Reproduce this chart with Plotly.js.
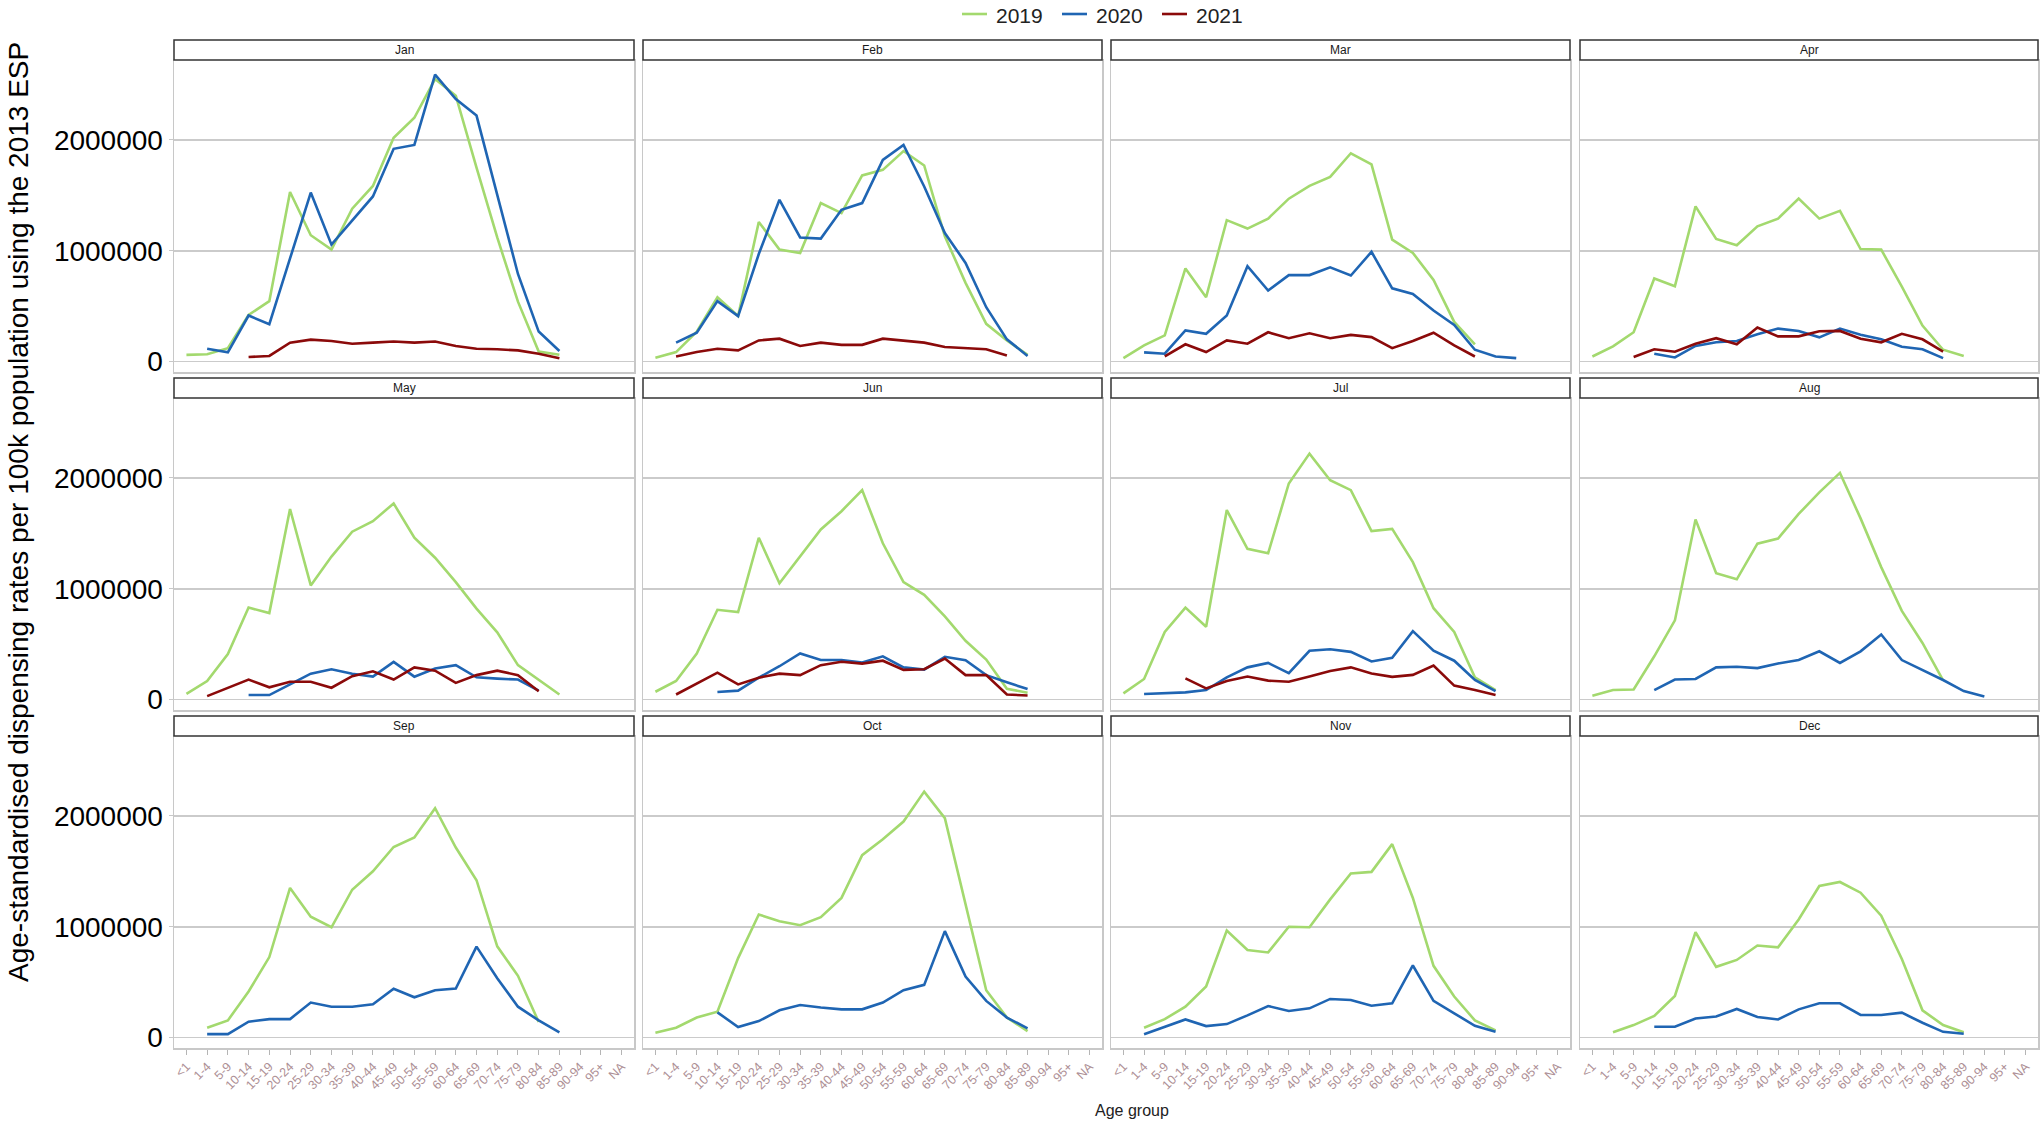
<!DOCTYPE html>
<html>
<head>
<meta charset="utf-8">
<script src="https://cdn.plot.ly/plotly-3.0.1.min.js"></script>
<style>
  html, body { margin: 0; padding: 0; background: #fff; }
  #chart { width: 2040px; height: 1122px; }
</style>
</head>
<body>
<div id="chart"></div>
<script>
// Age groups on the x axis
const ageGroups = ['<1', '1-4', '5-9', '10-14', '15-19', '20-24', '25-29', '30-34', '35-39', '40-44',
  '45-49', '50-54', '55-59', '60-64', '65-69', '70-74', '75-79', '80-84', '85-89', '90-94', '95+', 'NA'];

const months = ['Jan', 'Feb', 'Mar', 'Apr', 'May', 'Jun', 'Jul', 'Aug', 'Sep', 'Oct', 'Nov', 'Dec'];

const years = ['2019', '2020', '2021'];
const yearColors = ['#a3d96e', '#1f65b3', '#8b0a0a'];

const yTickVals = [0, 1000000, 2000000];
const yTickText = ['0', '1000000', '2000000'];

const N = null;

// one row per month, one value per age group (rate per 100k, ESP 2013)
const rates2019 = [
  [60000, 65000, 120000, 420000, 545000, 1530000, 1140000, 1010000, 1380000, 1585000, 2020000, 2200000, 2550000, 2400000, 1750000, 1120000, 540000, 90000, 60000, N, N, N],
  [33000, 85000, 270000, 580000, 410000, 1260000, 1010000, 980000, 1430000, 1340000, 1680000, 1730000, 1900000, 1770000, 1130000, 710000, 340000, 190000, 60000, N, N, N],
  [30000, 145000, 236000, 840000, 580000, 1276000, 1200000, 1290000, 1470000, 1585000, 1667000, 1880000, 1780000, 1100000, 980000, 736000, 357000, 155000, N, N, N, N],
  [45000, 136000, 264000, 750000, 680000, 1400000, 1106000, 1050000, 1220000, 1290000, 1470000, 1290000, 1360000, 1015000, 1010000, 676000, 324000, 106000, 50000, N, N, N],
  [50000, 167000, 410000, 830000, 780000, 1720000, 1030000, 1290000, 1515000, 1610000, 1770000, 1460000, 1280000, 1060000, 820000, 606000, 310000, 180000, 45000, N, N, N],
  [70000, 167000, 415000, 810000, 790000, 1460000, 1050000, 1290000, 1535000, 1700000, 1890000, 1410000, 1060000, 945000, 750000, 530000, 360000, 97000, 60000, N, N, N],
  [55000, 185000, 610000, 830000, 657000, 1710000, 1360000, 1320000, 1950000, 2220000, 1980000, 1890000, 1520000, 1540000, 1240000, 824000, 610000, 200000, 85000, N, N, N],
  [33000, 85000, 90000, 390000, 714000, 1626000, 1140000, 1085000, 1407000, 1453000, 1675000, 1870000, 2046000, 1635000, 1195000, 800000, 510000, 173000, N, N, N, N],
  [N, 88000, 154000, 415000, 726000, 1350000, 1090000, 995000, 1334000, 1500000, 1720000, 1806000, 2070000, 1715000, 1420000, 823000, 557000, 140000, N, N, N, N],
  [42000, 88000, 180000, 233000, 717000, 1110000, 1050000, 1014000, 1086000, 1260000, 1646000, 1790000, 1950000, 2220000, 1980000, 1216000, 427000, 180000, 57000, N, N, N],
  [N, 88000, 166000, 278000, 460000, 965000, 790000, 768000, 1000000, 995000, 1247000, 1480000, 1495000, 1746000, 1260000, 647000, 370000, 154000, 64000, N, N, N],
  [N, 48000, 112000, 194000, 375000, 950000, 638000, 700000, 830000, 814000, 1065000, 1368000, 1404000, 1307000, 1100000, 708000, 245000, 112000, 48000, N, N, N]
];

const rates2020 = [
  [N, 115000, 82000, 415000, 336000, 930000, 1525000, 1055000, 1270000, 1490000, 1920000, 1955000, 2590000, 2370000, 2220000, 1500000, 790000, 270000, 94000, N, N, N],
  [N, 170000, 260000, 545000, 410000, 970000, 1460000, 1120000, 1110000, 1370000, 1430000, 1820000, 1955000, 1580000, 1160000, 890000, 490000, 200000, 50000, N, N, N],
  [N, 82000, 70000, 280000, 250000, 415000, 860000, 640000, 780000, 780000, 850000, 776000, 990000, 660000, 610000, 460000, 330000, 106000, 45000, 30000, N, N],
  [N, N, N, 70000, 36000, 140000, 173000, 185000, 245000, 297000, 276000, 218000, 297000, 242000, 200000, 133000, 110000, 30000, N, N, N, N],
  [N, N, N, 40000, 40000, 136000, 233000, 273000, 233000, 206000, 340000, 206000, 280000, 310000, 200000, 188000, 180000, 80000, N, N, N, N],
  [N, N, N, 67000, 80000, 197000, 300000, 415000, 357000, 357000, 333000, 390000, 290000, 270000, 385000, 354000, 220000, 155000, 94000, N, N, N],
  [N, 50000, 55000, 64000, 85000, 200000, 290000, 330000, 237000, 440000, 453000, 430000, 343000, 377000, 617000, 440000, 350000, 176000, 76000, N, N, N],
  [N, N, N, 85000, 180000, 185000, 290000, 295000, 283000, 325000, 356000, 435000, 330000, 435000, 587000, 356000, 267000, 176000, 76000, 27000, N, N],
  [N, 30000, 30000, 142000, 166000, 166000, 315000, 278000, 278000, 300000, 440000, 363000, 427000, 442000, 820000, 535000, 278000, 154000, 45000, N, N, N],
  [N, N, N, 227000, 94000, 148000, 245000, 293000, 270000, 254000, 254000, 315000, 427000, 475000, 960000, 550000, 330000, 180000, 82000, N, N, N],
  [N, 30000, 100000, 163000, 103000, 121000, 200000, 284000, 239000, 263000, 348000, 339000, 287000, 309000, 650000, 330000, 218000, 106000, 51000, N, N, N],
  [N, N, N, 97000, 97000, 172000, 190000, 257000, 185000, 163000, 254000, 309000, 309000, 203000, 203000, 224000, 133000, 51000, 33000, N, N, N]
];

// 2021 only runs to July
const rates2021 = [
  [N, N, N, 40000, 50000, 170000, 197000, 185000, 160000, 170000, 180000, 170000, 180000, 140000, 115000, 110000, 100000, 70000, 30000, N, N, N],
  [N, 45000, 85000, 115000, 100000, 190000, 206000, 140000, 170000, 150000, 150000, 206000, 185000, 170000, 130000, 120000, 110000, 55000, N, N, N, N],
  [N, N, 45000, 155000, 85000, 190000, 160000, 264000, 210000, 255000, 210000, 240000, 220000, 120000, 185000, 260000, 145000, 45000, N, N, N, N],
  [N, N, 40000, 110000, 88000, 160000, 210000, 155000, 306000, 227000, 227000, 273000, 276000, 206000, 173000, 250000, 200000, 90000, N, N, N, N],
  [N, 30000, 106000, 180000, 110000, 160000, 160000, 106000, 210000, 254000, 180000, 290000, 260000, 150000, 220000, 260000, 220000, 75000, N, N, N, N],
  [N, 45000, 142000, 242000, 136000, 197000, 233000, 220000, 310000, 340000, 324000, 350000, 267000, 273000, 370000, 220000, 220000, 45000, 36000, N, N, N],
  [N, N, N, 190000, 100000, 167000, 207000, 170000, 160000, 207000, 258000, 290000, 234000, 204000, 222000, 307000, 125000, 85000, 40000, N, N, N]
];

const ratesByYear = [rates2019, rates2020, rates2021];

// panel geometry in pixels
const W = 2040, H = 1122;
const colX = [[174, 634], [643, 1102], [1111, 1570], [1580, 2038]];
const rowY = [[60, 372], [398, 710], [736, 1048]];
const stripH = 20;

// the legend sits hard against the top edge, where plotly's own legend
// would push the plot area down, so it is drawn by hand
const legendLeft = 962, legendStep = 100, legendY = 14;

const px = x => x / W;
const py = y => 1 - y / H;

const traces = [];
const layout = {
  width: W,
  height: H,
  margin: { l: 0, r: 0, t: 0, b: 0 },
  paper_bgcolor: '#fff',
  plot_bgcolor: '#fff',
  font: { family: 'Liberation Sans, Arial, sans-serif', color: '#000' },
  showlegend: false,
  shapes: [],
  annotations: []
};

months.forEach((month, m) => {
  const row = Math.floor(m / 4);
  const col = m % 4;
  const n = m + 1;
  const suffix = n === 1 ? '' : n;
  const [x0, x1] = colX[col];
  const [y0, y1] = rowY[row];

  layout['xaxis' + suffix] = {
    domain: [px(x0), px(x1)],
    anchor: 'y' + suffix,
    type: 'category',
    categoryorder: 'array',
    categoryarray: ageGroups,
    range: [-0.6, ageGroups.length - 0.4],
    tickmode: 'array',
    tickvals: ageGroups,
    ticktext: ageGroups,
    showgrid: false,
    zeroline: false,
    showline: true,
    mirror: true,
    linecolor: '#c8c8c8',
    linewidth: 1.5,
    ticks: row === 2 ? 'outside' : '',
    ticklen: 5,
    tickcolor: '#b5b5b5',
    showticklabels: row === 2,
    tickangle: -45,
    tickfont: { size: 12.5, color: '#ad8f95' }
  };

  layout['yaxis' + suffix] = {
    domain: [py(y1), py(y0)],
    anchor: 'x' + suffix,
    range: [-95000, 2722000],
    tickmode: 'array',
    tickvals: yTickVals,
    ticktext: yTickText,
    showticklabels: col === 0,
    tickfont: { size: 28, color: '#000' },
    ticks: col === 0 ? 'outside' : '',
    ticklen: 4,
    tickcolor: '#c8c8c8',
    showgrid: true,
    gridcolor: '#cbcbcb',
    gridwidth: 1.8,
    zeroline: false,
    showline: true,
    mirror: true,
    linecolor: '#c8c8c8',
    linewidth: 1.5
  };

  // facet strip
  layout.shapes.push({
    type: 'rect', xref: 'paper', yref: 'paper',
    x0: px(x0), x1: px(x1),
    y0: py(y0), y1: py(y0 - stripH),
    line: { color: '#333', width: 1.5 },
    fillcolor: '#fff'
  });
  layout.annotations.push({
    xref: 'paper', yref: 'paper',
    x: px((x0 + x1) / 2), y: py(y0 - stripH / 2),
    xanchor: 'center', yanchor: 'middle',
    text: month, showarrow: false,
    font: { size: 12, color: '#1a1a1a' }
  });

  years.forEach((year, i) => {
    const rows = ratesByYear[i];
    if (m >= rows.length) return;
    traces.push({
      type: 'scatter',
      mode: 'lines',
      x: ageGroups,
      y: rows[m],
      xaxis: 'x' + suffix,
      yaxis: 'y' + suffix,
      name: year,
      connectgaps: false,
      line: { color: yearColors[i], width: 2.6 },
      hoverinfo: 'x+y+name'
    });
  });
});

// legend keys
years.forEach((year, i) => {
  const lx = legendLeft + i * legendStep;
  layout.shapes.push({
    type: 'line', xref: 'paper', yref: 'paper',
    x0: px(lx), x1: px(lx + 25),
    y0: py(legendY), y1: py(legendY),
    line: { color: yearColors[i], width: 2.6 }
  });
  layout.annotations.push({
    xref: 'paper', yref: 'paper',
    x: px(lx + 32), y: py(legendY + 1),
    xanchor: 'left', yanchor: 'middle',
    text: year, showarrow: false,
    font: { size: 21, color: '#222' }
  });
});

// axis titles as free annotations so they sit where the original has them
layout.annotations.push({
  xref: 'paper', yref: 'paper',
  x: px(19), y: py(512),
  xanchor: 'center', yanchor: 'middle',
  textangle: -90,
  text: 'Age-standardised dispensing rates per 100k population using the 2013 ESP',
  showarrow: false,
  font: { size: 28, color: '#000' }
});
layout.annotations.push({
  xref: 'paper', yref: 'paper',
  x: px(1132), y: py(1110),
  xanchor: 'center', yanchor: 'middle',
  text: 'Age group',
  showarrow: false,
  font: { size: 16, color: '#222' }
});

Plotly.newPlot('chart', traces, layout, { displayModeBar: false, staticPlot: true });
</script>
</body>
</html>
